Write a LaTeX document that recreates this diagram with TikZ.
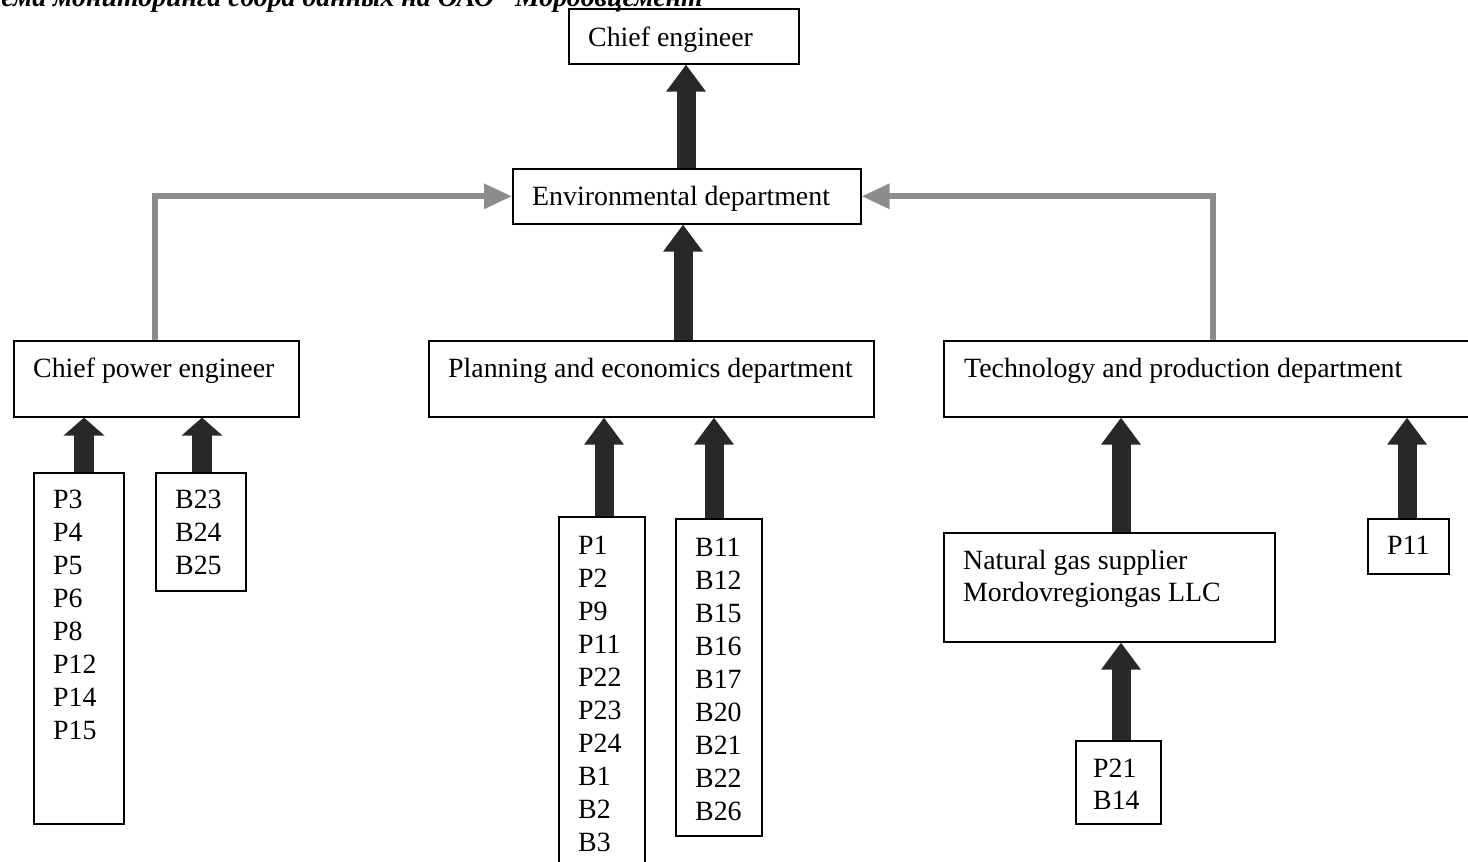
\documentclass[tikz,border=0pt]{standalone}
\usepackage{fontspec}
\setmainfont{Liberation Serif}
\usetikzlibrary{arrows.meta}
\definecolor{arrowdark}{RGB}{40,40,40}
\definecolor{arrowgrey}{RGB}{140,140,140}
\begin{document}
\begin{tikzpicture}[x=1pt,y=-1pt,
  box/.style={draw, line width=1.6pt, rectangle, anchor=north west, inner sep=0pt},
  txt/.style={anchor=base west, inner sep=0pt, font=\fontsize{27.85}{33}\selectfont},
  bigarrow/.style={draw=arrowdark, line width=19pt, -{Triangle[width=38pt,length=27pt]}},
  shortarrow/.style={draw=arrowdark, line width=20pt, -{Triangle[width=40pt,length=18pt]}},
  greyarrow/.style={draw=arrowgrey, line width=6pt, -{Triangle[width=24pt,length=28pt]}}
]
\useasboundingbox (0,0) rectangle (1468,862);
\fill[white] (0,0) rectangle (1468,862);

% caption (cut off at the top edge)
\node[anchor=base east, inner sep=0pt, font=\fontsize{27.85}{33}\selectfont\bfseries\itshape] (cap) at (717,6) {Схема мониторинга сбора данных на ОАО “Мордовцемент”};

% boxes
\node[box, minimum width=230pt, minimum height=55pt] (chief) at (568,8) {};
\node[box, minimum width=348pt, minimum height=55pt] (env) at (512,168) {};
\node[box, minimum width=285pt, minimum height=76pt] (cpe) at (13,340) {};
\node[box, minimum width=445pt, minimum height=76pt] (plan) at (428,340) {};
\node[box, minimum width=530pt, minimum height=76pt] (tech) at (943,340) {};
\node[box, minimum width=90pt, minimum height=351pt] (p3box) at (33,472) {};
\node[box, minimum width=90pt, minimum height=118pt] (b23box) at (155,472) {};
\node[box, minimum width=86pt, minimum height=360pt] (p1box) at (558,516) {};
\node[box, minimum width=86pt, minimum height=317pt] (b11box) at (675,518) {};
\node[box, minimum width=331pt, minimum height=109pt] (gas) at (943,532) {};
\node[box, minimum width=81pt, minimum height=55pt] (p11box) at (1367,518) {};
\node[box, minimum width=85pt, minimum height=83pt] (p21box) at (1075,740) {};

% texts
\node[txt] (chief-t) at (588,46) {Chief engineer};
\node[txt] (env-t) at (532,205) {Environmental department};
\node[txt] (cpe-t) at (33,377) {Chief power engineer};
\node[txt] (plan-t) at (448,377) {Planning and economics department};
\node[txt] (tech-t) at (964,377) {Technology and production department};
\foreach \s [count=\i from 0] in {P3,P4,P5,P6,P8,P12,P14,P15}
  \node[txt] (p3-\i) at (53,{508+33*\i}) {\s};
\foreach \s [count=\i from 0] in {B23,B24,B25}
  \node[txt] (b23-\i) at (175,{508+33*\i}) {\s};
\foreach \s [count=\i from 0] in {P1,P2,P9,P11,P22,P23,P24,B1,B2,B3}
  \node[txt] (p1-\i) at (578,{554+33*\i}) {\s};
\foreach \s [count=\i from 0] in {B11,B12,B15,B16,B17,B20,B21,B22,B26}
  \node[txt] (b11-\i) at (695,{556+33*\i}) {\s};
\node[txt] (gas-t1) at (963,569) {Natural gas supplier};
\node[txt] (gas-t2) at (963,601) {Mordovregiongas LLC};
\node[txt] (p11-t) at (1387,554) {P11};
\node[txt] (p21-t1) at (1093,777) {P21};
\node[txt] (p21-t2) at (1093,809) {B14};

% arrow x positions
\coordinate (a1) at (686,0);
\coordinate (a2) at (683,0);
\coordinate (a3) at (84,0);
\coordinate (a4) at (202,0);
\coordinate (a5) at (604,0);
\coordinate (a6) at (714,0);
\coordinate (a7) at (1121,0);
\coordinate (a8) at (1407,0);
\coordinate (g1) at (155,0);
\coordinate (g2) at (1213,0);

% thick arrows
\draw[bigarrow] (env.north -| a1) -- (chief.south -| a1);
\draw[bigarrow] (plan.north -| a2) -- (env.south -| a2);
\draw[shortarrow] (p3box.north -| a3) -- (cpe.south -| a3);
\draw[shortarrow] (b23box.north -| a4) -- (cpe.south -| a4);
\draw[bigarrow] (p1box.north -| a5) -- (plan.south -| a5);
\draw[bigarrow] (b11box.north -| a6) -- (plan.south -| a6);
\draw[bigarrow] (gas.north -| a7) -- (tech.south -| a7);
\draw[bigarrow] (p11box.north -| a8) -- (tech.south -| a8);
\draw[bigarrow] (p21box.north -| a7) -- (gas.south -| a7);

% grey elbow arrows
\draw[greyarrow] (cpe.north -| g1) |- (env.west);
\draw[greyarrow] (tech.north -| g2) |- (env.east);
\end{tikzpicture}
\end{document}
